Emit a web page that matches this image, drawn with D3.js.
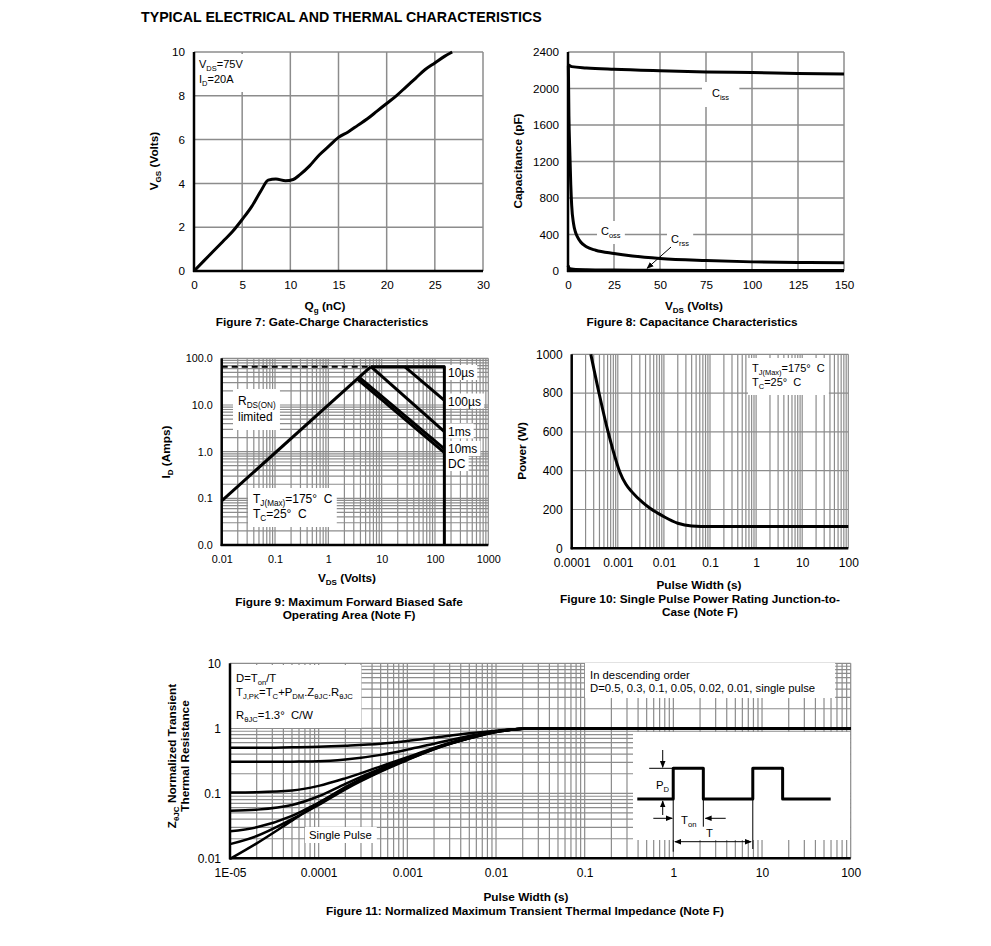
<!DOCTYPE html>
<html>
<head>
<meta charset="utf-8">
<script src="https://cdn.jsdelivr.net/npm/d3@7"></script>
<style>
  body { margin: 0; background: #fff; }
  text { font-family: "Liberation Sans", Arial, sans-serif; fill: #000; }
</style>
</head>
<body>
<svg width="991" height="946"></svg>
<script>
// ---------- data ----------
// Figure 7: gate charge
const qgNc    = [0,1,2,3,4,5,6,7,7.7,8.5,9.5,10.3,11,12,13,14,15,16,17,18,19,20,21,22,23,24,25,26,26.8];
const vgsVolt = [0,0.45,0.9,1.35,1.8,2.35,2.95,3.7,4.15,4.2,4.12,4.18,4.4,4.8,5.3,5.7,6.1,6.35,6.65,6.95,7.3,7.65,8.0,8.4,8.8,9.2,9.5,9.8,10];
const gateXTicks = [0,5,10,15,20,25,30];
const gateYTicks = [0,2,4,6,8,10];

// Figure 8: capacitance
const cissVds = [0,2,10,25,50,75,100,125,150];
const cissPf  = [2260,2240,2225,2210,2194,2182,2175,2165,2158];
const cossVds = [0.2,0.5,1,1.5,2,3,4,5,7,10,15,25,35,50,75,100,125,150];
const cossPf  = [2250,1700,1300,950,720,520,430,380,315,265,228,192,165,138,115,100,93,90];
const crssVds = [0,0.5,1,3,10,25,50,100,150];
const crssPf  = [60,35,25,18,13,10,8,6,5];
const capXTicks = [0,25,50,75,100,125,150];
const capYTicks = [0,400,800,1200,1600,2000,2400];

// Figure 9: safe operating area
const soaXTicks  = [0.01,0.1,1,10,100,1000];
const soaXLabels = ["0.01","0.1","1","10","100","1000"];
const soaYTicks  = [0.01,0.1,1,10,100];
const soaYLabels = ["0.0","0.1","1.0","10.0","100.0"];
const rdsV = [0.01,6.3],  rdsA = [0.088,66];
const dashV = [0.01,6.3], dashA = [66,66];
const dcV = [3.6,150],    dcA = [35,0.95];
const ms10V = [3.9,150],  ms10A = [38,1.15];
const ms1V = [6.3,150],   ms1A = [66,2.7];
const us100V = [27,150],  us100A = [66,12.5];
const us10V = [6.3,150,150], us10A = [66,66,0.01];

// Figure 10: single pulse power
const pulseSec = [0.00026,0.0004,0.0006,0.0008,0.0011,0.0015,0.002,0.0035,0.005,0.0075,0.01,0.02,0.04,0.1,1,10,100];
const powerW   = [1000,790,610,500,395,330,292,235,206,180,163,129,115,112,112,112,112];
const pwrXTicks  = [0.0001,0.001,0.01,0.1,1,10,100];
const pwrXLabels = ["0.0001","0.001","0.01","0.1","1","10","100"];
const pwrYTicks  = [0,200,400,600,800,1000];

// Figure 11: transient thermal impedance
const zthSec = [1e-5,2e-5,5e-5,1e-4,2e-4,5e-4,1e-3,2e-3,5e-3,1e-2,2e-2,3e-2,100];
const zthD050 = [0.5,0.5,0.51,0.52,0.54,0.58,0.64,0.72,0.84,0.92,0.98,1,1];
const zthD030 = [0.305,0.305,0.307,0.31,0.33,0.39,0.47,0.58,0.76,0.9,0.98,1,1];
const zthD010 = [0.103,0.104,0.11,0.13,0.17,0.26,0.36,0.5,0.72,0.89,0.98,1,1];
const zthD005 = [0.054,0.056,0.066,0.09,0.14,0.24,0.34,0.49,0.71,0.89,0.98,1,1];
const zthD002 = [0.026,0.03,0.045,0.072,0.12,0.22,0.33,0.48,0.7,0.88,0.98,1,1];
const zthD001 = [0.0165,0.022,0.04,0.066,0.115,0.215,0.325,0.475,0.7,0.88,0.98,1,1];
const zthSingle = [0.0098,0.017,0.038,0.07,0.125,0.23,0.34,0.49,0.71,0.89,0.98,1,1];
const zthXTicks  = [1e-5,1e-4,1e-3,1e-2,0.1,1,10,100];
const zthXLabels = ["1E-05","0.0001","0.001","0.01","0.1","1","10","100"];
const zthYTicks  = [0.01,0.1,1,10];
const zthYLabels = ["0.01","0.1","1","10"];

// inset pulse train (arbitrary time units)
const trainT = [0,1.3,1.3,2.39,2.39,4.18,4.18,5.26,5.26,7];
const trainP = [0,0,1,1,0,0,1,1,0,0];

// ---------- helpers ----------
const svg = d3.select("svg");
const GRID = "#8c8c8c";
const BOLD = 11.8;
const zip = (a, b) => a.map((v, i) => [v, b[i]]);

svg.append("defs").append("marker")
  .attr("id", "arr").attr("viewBox", "0 0 10 10").attr("refX", 9).attr("refY", 5)
  .attr("markerWidth", 7).attr("markerHeight", 7).attr("orient", "auto-start-reverse")
  .append("path").attr("d", "M0,1L10,5L0,9z").attr("fill", "#000");

function rich(g, x, y, parts, size, anchor, weight) {
  const t = g.append("text").attr("x", x).attr("y", y)
    .attr("font-size", size).attr("text-anchor", anchor || "start")
    .attr("font-weight", weight || "normal");
  let shift = 0;
  parts.forEach(p => {
    const sub = typeof p !== "string";
    const want = sub ? Math.round(size * 0.25) : 0;
    t.append("tspan").attr("dy", want - shift)
      .attr("font-size", sub ? size * 0.68 : size)
      .text(sub ? p.s : p);
    shift = want;
  });
  return t;
}

// white box behind a group of texts
function boxed(g, texts, pad) {
  const bbs = texts.map(t => t.node().getBBox());
  const x0 = d3.min(bbs, b => b.x) - pad[3], y0 = d3.min(bbs, b => b.y) - pad[0];
  const x1 = d3.max(bbs, b => b.x + b.width) + pad[1], y1 = d3.max(bbs, b => b.y + b.height) + pad[2];
  g.insert("rect", () => texts[0].node())
    .attr("x", x0).attr("y", y0).attr("width", x1 - x0).attr("height", y1 - y0).attr("fill", "#fff");
}

function grid(g, x, y, xs, ys, w) {
  const [yb, yt] = y.range(), [xl, xr] = x.range();
  g.append("g").selectAll("line").data(xs).join("line")
    .attr("x1", d => x(d)).attr("x2", d => x(d)).attr("y1", yb).attr("y2", yt)
    .attr("stroke", GRID).attr("stroke-width", w);
  g.append("g").selectAll("line").data(ys).join("line")
    .attr("y1", d => y(d)).attr("y2", d => y(d)).attr("x1", xl).attr("x2", xr)
    .attr("stroke", GRID).attr("stroke-width", w);
}

function axes(g, x, y, xt, xl, yt, yl, fs) {
  const [yb] = y.range(), [xLeft] = x.range();
  g.append("g").attr("transform", `translate(0,${yb})`)
    .call(d3.axisBottom(x).tickValues(xt).tickFormat((d, i) => xl ? xl[i] : d).tickSize(0).tickPadding(10))
    .call(a => a.select(".domain").remove())
    .attr("font-size", fs).attr("font-family", null);
  g.append("g").attr("transform", `translate(${xLeft},0)`)
    .call(d3.axisLeft(y).tickValues(yt).tickFormat((d, i) => yl ? yl[i] : d).tickSize(0).tickPadding(9))
    .call(a => a.select(".domain").remove())
    .attr("font-size", fs).attr("font-family", null);
  g.append("line").attr("x1", xLeft).attr("x2", xLeft).attr("y1", y.range()[0] + 1).attr("y2", y.range()[1])
    .attr("stroke", "#000").attr("stroke-width", 2.5);
  g.append("line").attr("x1", xLeft - 1).attr("x2", x.range()[1]).attr("y1", yb).attr("y2", yb)
    .attr("stroke", "#000").attr("stroke-width", 2.5);
}

function curve(g, x, y, pts, w, smooth, dash) {
  g.append("path").datum(pts)
    .attr("d", d3.line().x(d => x(d[0])).y(d => y(d[1])).curve(smooth ? d3.curveMonotoneX : d3.curveLinear))
    .attr("fill", "none").attr("stroke", "#000").attr("stroke-width", w)
    .attr("stroke-dasharray", dash || null).attr("stroke-linejoin", "round");
}

function yTitle(x, y, lines, size) {
  const g = svg.append("g").attr("transform", `translate(${x},${y}) rotate(-90)`);
  lines.forEach((l, i) => rich(g, 0, i * 13, l, size, "middle", "bold"));
}

// ---------- page title ----------
svg.append("text").attr("x", 141).attr("y", 22).attr("font-size", 14.2).attr("font-weight", "bold")
  .text("TYPICAL ELECTRICAL AND THERMAL CHARACTERISTICS");

// ---------- Figure 7 ----------
{
  const g = svg.append("g");
  const x = d3.scaleLinear().domain([0, 30]).range([194, 483]);
  const y = d3.scaleLinear().domain([0, 10]).range([271, 52]);
  grid(g, x, y, gateXTicks.slice(1), gateYTicks.slice(1), 1.5);
  const t1 = rich(g, 199, 68, ["V", {s: "DS"}, "=75V"], 11);
  const t2 = rich(g, 199, 83, ["I", {s: "D"}, "=20A"], 11);
  boxed(g, [t1, t2], [4, 4, 4, 4]);
  axes(g, x, y, gateXTicks, null, gateYTicks, null, 11.7);
  curve(g, x, y, zip(qgNc, vgsVolt), 3, true);
  rich(svg, 325, 309.5, ["Q", {s: "g"}, " (nC)"], BOLD, "middle", "bold");
  rich(svg, 322, 326, ["Figure 7: Gate-Charge Characteristics"], BOLD, "middle", "bold");
  yTitle(158, 161, [["V", {s: "GS"}, " (Volts)"]], BOLD);
}

// ---------- Figure 8 ----------
{
  const g = svg.append("g");
  const x = d3.scaleLinear().domain([0, 150]).range([568, 844]);
  const y = d3.scaleLinear().domain([0, 2400]).range([271, 52]);
  grid(g, x, y, capXTicks.slice(1), capYTicks.slice(1), 1.5);
  const c1 = rich(g, 712, 97, ["C", {s: "iss"}], 11);
  boxed(g, [c1], [5, 10, 5, 10]);
  const c2 = rich(g, 601, 235, ["C", {s: "oss"}], 11);
  boxed(g, [c2], [4, 4, 4, 4]);
  const c3 = rich(g, 671, 243, ["C", {s: "rss"}], 11);
  boxed(g, [c3], [4, 4, 4, 4]);
  axes(g, x, y, capXTicks, null, capYTicks, null, 11.7);
  curve(g, x, y, zip(cissVds, cissPf), 3, true);
  curve(g, x, y, zip(cossVds, cossPf), 3, true);
  curve(g, x, y, zip(crssVds, crssPf), 3, true);
  g.append("line").attr("x1", x(56)).attr("y1", y(263)).attr("x2", x(43)).attr("y2", y(30))
    .attr("stroke", "#000").attr("stroke-width", 1).attr("marker-end", "url(#arr)");
  rich(svg, 694, 309.5, ["V", {s: "DS"}, " (Volts)"], BOLD, "middle", "bold");
  rich(svg, 692, 326, ["Figure 8: Capacitance Characteristics"], BOLD, "middle", "bold");
  yTitle(522, 161, [["Capacitance (pF)"]], BOLD);
}

// ---------- Figure 9 ----------
{
  const g = svg.append("g");
  const x = d3.scaleLog().domain([0.01, 1000]).range([221.7, 488.3]);
  const y = d3.scaleLog().domain([0.01, 100]).range([545, 358.3]);
  grid(g, x, y, x.ticks(), y.ticks(), 1.2);
  const r1 = rich(g, 238, 405, ["R", {s: "DS(ON)"}], 12);
  const r2 = rich(g, 238, 421, ["limited"], 12);
  boxed(g, [r1, r2], [5, 4, 6, 5]);
  const tj = rich(g, 253, 503, ["T", {s: "J(Max)"}, "=175°\u00a0 C"], 12);
  const tc = rich(g, 253, 518, ["T", {s: "C"}, "=25°\u00a0 C"], 12);
  boxed(g, [tj, tc], [4, 4, 4, 5]);
  [["10µs", 377], ["100µs", 405.5], ["1ms", 435.5], ["10ms", 453], ["DC", 468]].forEach(([s, yy]) => {
    const t = rich(g, 448, yy, [s], 12);
    boxed(g, [t], [1, 3, 0, 3]);
  });
  axes(g, x, y, soaXTicks, soaXLabels, soaYTicks, soaYLabels, 10.8);
  curve(g, x, y, zip(dashV, dashA), 2, false, "6,4");
  curve(g, x, y, zip(rdsV, rdsA), 3);
  curve(g, x, y, zip(dcV, dcA), 3);
  curve(g, x, y, zip(ms10V, ms10A), 3);
  curve(g, x, y, zip(ms1V, ms1A), 3);
  curve(g, x, y, zip(us100V, us100A), 3);
  curve(g, x, y, zip(us10V, us10A), 3);
  rich(svg, 347, 582, ["V", {s: "DS"}, " (Volts)"], BOLD, "middle", "bold");
  rich(svg, 349, 606, ["Figure 9: Maximum Forward Biased Safe"], BOLD, "middle", "bold");
  rich(svg, 349, 619, ["Operating Area (Note F)"], BOLD, "middle", "bold");
  yTitle(170, 452, [["I", {s: "D"}, " (Amps)"]], BOLD);
}

// ---------- Figure 10 ----------
{
  const g = svg.append("g");
  const x = d3.scaleLog().domain([0.0001, 100]).range([571.7, 848.3]);
  const y = d3.scaleLinear().domain([0, 1000]).range([548.3, 354.3]);
  grid(g, x, y, x.ticks(), pwrYTicks.slice(1), 1.2);
  const tj = rich(g, 752, 372, ["T", {s: "J(Max)"}, "=175°\u00a0 C"], 11);
  const tc = rich(g, 752, 386, ["T", {s: "C"}, "=25°\u00a0 C"], 11);
  boxed(g, [tj, tc], [4, 4, 4, 4]);
  axes(g, x, y, pwrXTicks, pwrXLabels, pwrYTicks, null, 12);
  curve(g, x, y, zip(pulseSec, powerW), 3, true);
  rich(svg, 699, 589, ["Pulse Width (s)"], BOLD, "middle", "bold");
  rich(svg, 700, 603, ["Figure 10: Single Pulse Power Rating Junction-to-"], BOLD, "middle", "bold");
  rich(svg, 700, 616, ["Case (Note F)"], BOLD, "middle", "bold");
  yTitle(526, 451, [["Power (W)"]], BOLD);
}

// ---------- Figure 11 ----------
{
  const g = svg.append("g");
  const x = d3.scaleLog().domain([1e-5, 100]).range([230, 850.7]);
  const y = d3.scaleLog().domain([0.01, 10]).range([858.3, 663.3]);
  grid(g, x, y, x.ticks(), y.ticks(), 1.2);

  const a1 = rich(g, 236, 682, ["D=T", {s: "on"}, "/T"], 11.3);
  const a2 = rich(g, 236, 696, ["T", {s: "J,PK"}, "=T", {s: "C"}, "+P", {s: "DM"}, ".Z", {s: "θJC"}, ".R", {s: "θJC"}], 11.3);
  const a3 = rich(g, 236, 719, ["R", {s: "θJC"}, "=1.3°\u00a0 C/W"], 11.3);
  boxed(g, [a1, a2, a3], [7, 8, 4, 6]);
  const sp = rich(g, 309, 839, ["Single Pulse"], 11.3);
  boxed(g, [sp], [2, 5, 2, 4]);
  const b1 = rich(g, 590, 679, ["In descending order"], 11.3);
  const b2 = rich(g, 590, 692, ["D=0.5, 0.3, 0.1, 0.05, 0.02, 0.01, single pulse"], 11.3);
  boxed(g, [b1, b2], [6, 20, 4, 5]);

  // inset drawing
  g.append("rect").attr("x", 633).attr("y", 732).attr("width", 217).attr("height", 108).attr("fill", "#fff");

  axes(g, x, y, zthXTicks, zthXLabels, zthYTicks, zthYLabels, 12);
  [zthD050, zthD030, zthD010, zthD005, zthD002, zthD001, zthSingle]
    .forEach(v => curve(g, x, y, zip(zthSec, v), 2.5, true));

  const ix = d3.scaleLinear().domain([0, 7]).range([637.3, 830.7]);
  const iy = d3.scaleLinear().domain([0, 1]).range([799, 768.3]);
  curve(g, ix, iy, zip(trainT, trainP), 3);
  const thin = (x1, y1, x2, y2, m1, m2) => g.append("line")
    .attr("x1", x1).attr("y1", y1).attr("x2", x2).attr("y2", y2)
    .attr("stroke", "#000").attr("stroke-width", 1)
    .attr("marker-start", m1 ? "url(#arr)" : null).attr("marker-end", m2 ? "url(#arr)" : null);
  thin(ix(0.43), iy(1), ix(1.3), iy(1));
  thin(ix(0.92), 750, ix(0.92), iy(1) - 1, false, true);
  thin(ix(0.92), 815, ix(0.92), iy(0) + 2, false, true);
  thin(ix(0.58), 818.3, ix(1.3) - 1, 818.3, false, true);
  thin(ix(3.2), 818.3, ix(2.39) + 2, 818.3, false, true);
  thin(ix(1.3), iy(0), ix(1.3), 851.7);
  thin(ix(2.39), iy(0), ix(2.39), 826.7);
  thin(ix(4.18), iy(0), ix(4.18), 849);
  thin(ix(1.36), 841.7, ix(4.12), 841.7, true, true);
  rich(g, 656, 789, ["P", {s: "D"}], 11.3);
  rich(g, 681, 824, ["T", {s: "on"}], 11.3);
  rich(g, 706, 837, ["T"], 11.3);

  rich(svg, 526, 901, ["Pulse Width (s)"], BOLD, "middle", "bold");
  rich(svg, 525, 915, ["Figure 11: Normalized Maximum Transient Thermal Impedance (Note F)"], BOLD, "middle", "bold");
  yTitle(176, 756, [["Z", {s: "θJC"}, " Normalized Transient"], ["Thermal Resistance"]], BOLD);
}
</script>
</body>
</html>
